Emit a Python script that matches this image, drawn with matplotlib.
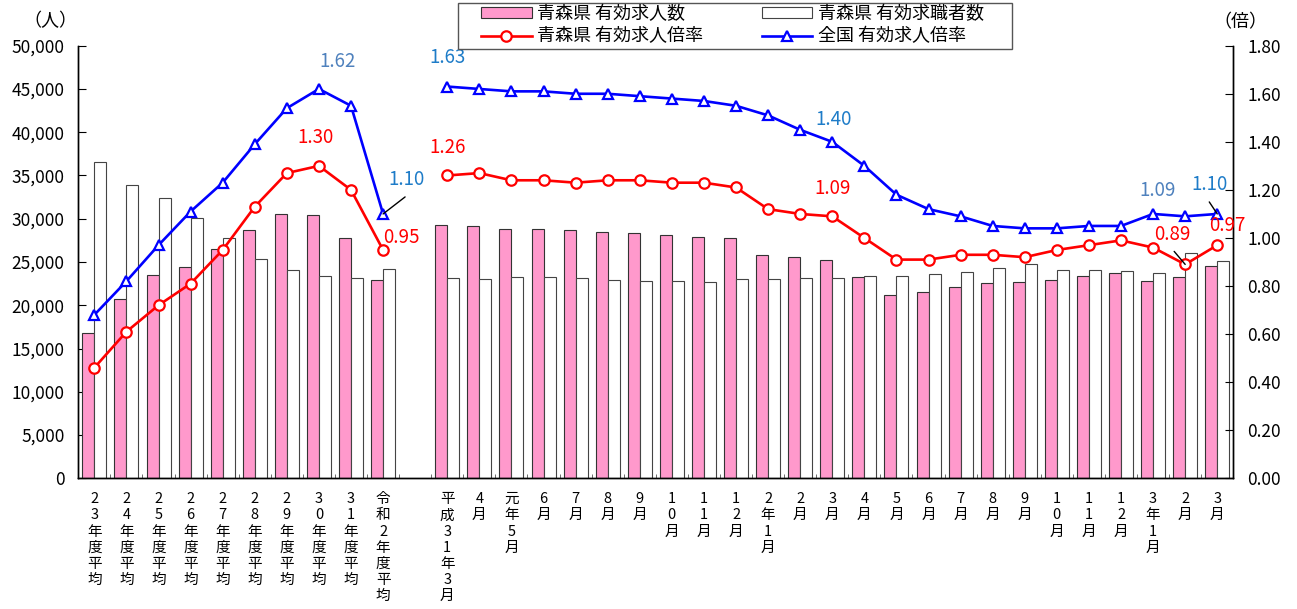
import numpy as np
import matplotlib

matplotlib.use('Agg')
import matplotlib.pyplot as plt
from matplotlib.patches import Rectangle
from matplotlib.ticker import FuncFormatter, FixedLocator

plt.rcParams['font.family'] = ['Noto Sans CJK JP', 'DejaVu Sans']

# ---- data ----
annual_labels = ['23年度平均', '24年度平均', '25年度平均', '26年度平均', '27年度平均',
                 '28年度平均', '29年度平均', '30年度平均', '31年度平均', '令和2年度平均']
month_labels = ['平成31年3月', '4月', '元年5月', '6月', '7月', '8月', '9月', '10月', '11月',
                '12月', '2年1月', '2月', '3月', '4月', '5月', '6月', '7月', '8月', '9月',
                '10月', '11月', '12月', '3年1月', '2月', '3月']

offers_annual = [16760, 20690, 23460, 24390, 26470, 28700, 30550, 30470, 27740, 22920]
seekers_annual = [36520, 33860, 32400, 30050, 27810, 25310, 24040, 23350, 23120, 24190]
ratio_aomori_annual = [0.46, 0.61, 0.72, 0.81, 0.95, 1.13, 1.27, 1.30, 1.20, 0.95]
ratio_japan_annual = [0.68, 0.82, 0.97, 1.11, 1.23, 1.39, 1.54, 1.62, 1.55, 1.10]

offers_month = [29280, 29120, 28850, 28780, 28700, 28430, 28320, 28080, 27850, 27810,
                25810, 25610, 25270, 23300, 21150, 21500, 22110, 22540, 22730, 22920,
                23350, 23770, 22770, 23230, 24500]
seekers_month = [23120, 23000, 23300, 23300, 23190, 22920, 22840, 22840, 22730, 23000,
                 23070, 23190, 23120, 23350, 23350, 23580, 23810, 24340, 24730, 24110,
                 24110, 23920, 23690, 26000, 25080]
ratio_aomori_month = [1.26, 1.27, 1.24, 1.24, 1.23, 1.24, 1.24, 1.23, 1.23, 1.21,
                      1.12, 1.10, 1.09, 1.00, 0.91, 0.91, 0.93, 0.93, 0.92, 0.95,
                      0.97, 0.99, 0.96, 0.89, 0.97]
ratio_japan_month = [1.63, 1.62, 1.61, 1.61, 1.60, 1.60, 1.59, 1.58, 1.57, 1.55,
                     1.51, 1.45, 1.40, 1.30, 1.18, 1.12, 1.09, 1.05, 1.04, 1.04,
                     1.05, 1.05, 1.10, 1.09, 1.10]

x_a = np.arange(len(annual_labels))
x_m = np.arange(len(month_labels)) + len(annual_labels) + 1
x_all = np.concatenate([x_a, x_m])
labels_all = annual_labels + month_labels

PINK = '#FF99CC'
RED = '#FF0000'
BLUE = '#0000FF'
LBL_BLUE = '#1E7CC8'
LBL_BLUE2 = '#4F81BD'

W, H = 1297, 609
fig = plt.figure(figsize=(W / 100, H / 100), dpi=100)
ax = fig.add_axes([78.3 / W, 1 - 478.3 / H, (1233.3 - 78.3) / W, (478.3 - 45.7) / H])
ax2 = ax.twinx()

w = 0.374
b1 = ax.bar(x_all - w / 2, offers_annual + offers_month, width=w,
            color=PINK, edgecolor='#333333', linewidth=0.8, zorder=2)
b2 = ax.bar(x_all + w / 2, seekers_annual + seekers_month, width=w,
            color='white', edgecolor='#444444', linewidth=0.8, zorder=2)

lkw = dict(linewidth=1.9, markersize=7.5, markerfacecolor='white', markeredgewidth=1.6, zorder=3)
l1, = ax2.plot(x_a, ratio_aomori_annual, color=RED, marker='o', **lkw)
ax2.plot(x_m, ratio_aomori_month, color=RED, marker='o', **lkw)
l2, = ax2.plot(x_a, ratio_japan_annual, color=BLUE, marker='^', **lkw)
ax2.plot(x_m, ratio_japan_month, color=BLUE, marker='^', **lkw)

ax.set_xlim(-0.5, x_m[-1] + 0.5)
ax.set_ylim(0, 50000)
ax2.set_ylim(0, 1.8)

ax.set_yticks(np.arange(0, 50001, 5000))
ax.yaxis.set_major_formatter(FuncFormatter(lambda v, p: f'{int(v):,}'))
ax2.set_yticks(np.arange(0, 1.81, 0.2))
ax2.yaxis.set_major_formatter(FuncFormatter(lambda v, p: f'{v:.2f}'))
ax.tick_params(axis='y', direction='in', length=6, width=0.8, labelsize=12.5, pad=10)
ax2.tick_params(axis='y', direction='in', length=6, width=0.8, labelsize=12.5, pad=10)

ax.set_xticks(x_all)
ax.set_xticklabels(['\n'.join(s) for s in labels_all], fontsize=10.5, linespacing=1.2,
                   va='top')
ax.tick_params(axis='x', which='major', length=0, pad=10)
ax.xaxis.set_minor_locator(FixedLocator(np.arange(-0.5, x_m[-1] + 1, 1.0)))
ax.tick_params(axis='x', which='minor', direction='in', length=3, width=0.6, color='#555555')

for a in (ax, ax2):
    a.spines['top'].set_visible(False)
    for s in ('left', 'right', 'bottom'):
        a.spines[s].set_linewidth(1.0)

fig.text(50 / W, 1 - 21 / H, '（人）', ha='center', va='center', fontsize=13)
fig.text(1240 / W, 1 - 22 / H, '（倍）', ha='center', va='center', fontsize=13)

# value labels (offsets in pixels from the data point)
def label(xv, yv, txt, dx, dy, color):
    ax2.annotate(txt, (xv, yv), xytext=(dx, dy), textcoords='offset pixels',
                 ha='center', va='center', fontsize=13.5, color=color, zorder=5)

def pointer(xv, yv, dx, dy):
    ax2.annotate('', xy=(xv, yv), xytext=(dx, dy), textcoords='offset pixels',
                 arrowprops=dict(arrowstyle='-', color='black', lw=1.0,
                                 shrinkA=0, shrinkB=0), zorder=5)

label(x_a[7], ratio_japan_annual[7], '1.62', 19, 27, LBL_BLUE2)
label(x_a[7], ratio_aomori_annual[7], '1.30', -3, 28, RED)
label(x_a[9], ratio_japan_annual[9], '1.10', 23, 34, LBL_BLUE)
label(x_a[9], ratio_aomori_annual[9], '0.95', 18, 12, RED)
label(x_m[0], ratio_japan_month[0], '1.63', 0, 29, LBL_BLUE)
label(x_m[0], ratio_aomori_month[0], '1.26', 0, 28, RED)
label(x_m[12], ratio_japan_month[12], '1.40', 1, 22, LBL_BLUE)
label(x_m[12], ratio_aomori_month[12], '1.09', 0, 28, RED)
label(x_m[23], ratio_japan_month[23], '1.09', -28, 26, LBL_BLUE2)
label(x_m[24], ratio_japan_month[24], '1.10', -8, 29, LBL_BLUE)
label(x_m[23], ratio_aomori_month[23], '0.89', -13, 30, RED)
label(x_m[24], ratio_aomori_month[24], '0.97', 10, 20, RED)

pointer(x_a[9], ratio_japan_annual[9], 22, 17)
pointer(x_m[24], ratio_japan_month[24], -8, 12)
pointer(x_m[23], ratio_aomori_month[23], -11, 13)

# legend: frame drawn separately so its box matches the original
fig.patches.append(Rectangle((457.7 / W, 1 - 49 / H), (1011.7 - 457.7) / W, 45.7 / H,
                             transform=fig.transFigure, facecolor='white',
                             edgecolor='#555555', linewidth=1.0, zorder=4))
leg = fig.legend([b1, l1, b2, l2],
                 ['青森県 有効求人数', '青森県 有効求人倍率', '青森県 有効求職者数', '全国 有効求人倍率'],
                 ncol=2, loc='upper left', bbox_to_anchor=(481 / W, 1 - 5 / H),
                 borderaxespad=0, borderpad=0, fontsize=13, handlelength=2.8,
                 handleheight=0.5, columnspacing=3.25, labelspacing=0.25,
                 handletextpad=0.3, frameon=False)
leg.set_zorder(5)

fig.savefig('out.png', dpi=100)
